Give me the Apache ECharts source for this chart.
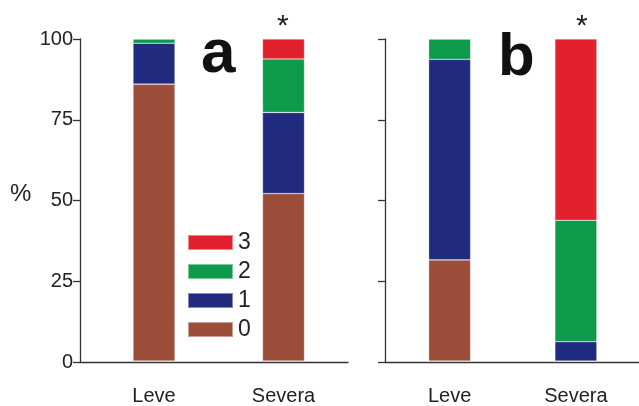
<!DOCTYPE html>
<html><head><meta charset="utf-8">
<script src="https://cdn.jsdelivr.net/npm/echarts@6/dist/echarts.min.js"></script>
<style>html,body{margin:0;padding:0;background:#fff}#c{width:639px;height:406px}</style>
</head><body><div id="c"></div>
<script>
const categories = ['Leve', 'Severa'];
const levels = ['0', '1', '2', '3'];
// panel a values (%), per level, [Leve, Severa]
const a0 = [86, 52];
const a1 = [12.7, 25.2];
const a2 = [1.3, 16.6];
const a3 = [0, 6.2];
// panel b values (%)
const b0 = [31.4, 0];
const b1 = [62.3, 6];
const b2 = [6.3, 37.7];
const b3 = [0, 56.3];

const colors = {'0': '#9d4e3b', '1': '#202b80', '2': '#0d9a4b', '3': '#e3202d'};
const font = "'Liberation Sans', Arial, sans-serif";
const panelA = [a0, a1, a2, a3];
const panelB = [b0, b1, b2, b3];

// grids 0,1: frame (axis lines, ticks, y labels); grids 2,3: bars (category axes)
const series = [];
[panelA, panelB].forEach((panel, p) => {
  panel.forEach((vals, i) => {
    series.push({
      type: 'bar', name: levels[i], stack: 'p' + p,
      xAxisIndex: p + 2, yAxisIndex: p + 2, barWidth: 42,
      itemStyle: {color: colors[levels[i]], borderColor: 'rgba(255,255,255,0.45)', borderWidth: 0.6},
      data: vals
    });
  });
});

const axisLineStyle = {color: '#333', width: 1.3};
function frameX(grid) {
  return {
    type: 'value', gridIndex: grid, min: 0, max: 1,
    axisLine: {show: true, onZero: false, lineStyle: axisLineStyle},
    axisTick: {show: false}, splitLine: {show: false}, axisLabel: {show: false}
  };
}
function frameY(grid, showLabel) {
  return {
    type: 'value', gridIndex: grid, min: 0, max: 100, interval: 25,
    axisLine: {show: true, onZero: false, lineStyle: axisLineStyle},
    axisTick: {show: true, length: 7, lineStyle: axisLineStyle},
    splitLine: {show: false},
    axisLabel: {show: showLabel, fontSize: 20, color: '#222', fontFamily: font, margin: 7}
  };
}
function barX(grid) {
  return {
    type: 'category', gridIndex: grid, data: categories,
    axisLine: {show: false}, axisTick: {show: false},
    axisLabel: {fontSize: 20, color: '#222', fontFamily: font, margin: 25}
  };
}
function barY(grid) {
  return {type: 'value', gridIndex: grid, min: 0, max: 100, show: false};
}

const chart = echarts.init(document.getElementById('c'));
chart.setOption({
  animation: false,
  backgroundColor: '#fff',
  grid: [
    {left: 80, top: 39, width: 268, bottom: 44},
    {left: 385, top: 39, width: 254, bottom: 44},
    {left: 89.25, top: 39, width: 259, bottom: 44},
    {left: 386.5, top: 39, width: 258, bottom: 44}
  ],
  xAxis: [frameX(0), frameX(1), barX(2), barX(3)],
  yAxis: [frameY(0, true), frameY(1, false), barY(2), barY(3)],
  legend: {
    data: ['3', '2', '1', '0'], orient: 'vertical', left: 187, top: 231, padding: 0,
    icon: 'rect', itemWidth: 45, itemHeight: 15, itemGap: 6,
    textStyle: {fontSize: 23, color: '#222', fontFamily: font}
  },
  graphic: [
    {type: 'text', left: 10, top: 182, style: {text: '%', fontSize: 24, fill: '#222', fontFamily: font}},
    {type: 'text', left: 201, top: 24, style: {text: 'a', fontSize: 62, fontWeight: 'bold', fill: '#111', fontFamily: font}},
    {type: 'text', left: 498, top: 28, style: {text: 'b', fontSize: 60, fontWeight: 'bold', fill: '#111', fontFamily: font}},
    {type: 'text', left: 277, top: 12, style: {text: '*', fontSize: 30, fill: '#222', fontFamily: font}},
    {type: 'text', left: 576, top: 12, style: {text: '*', fontSize: 30, fill: '#222', fontFamily: font}}
  ],
  series: series
});
</script></body></html>
